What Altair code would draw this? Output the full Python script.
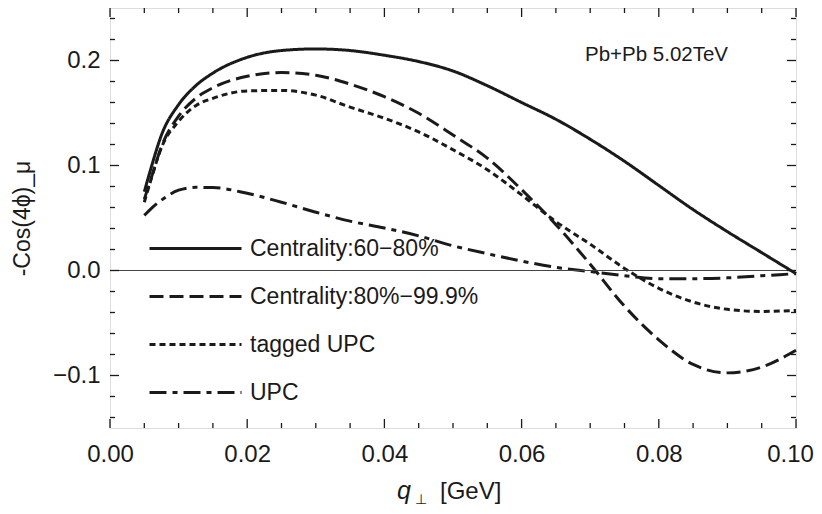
import altair as alt
import pandas as pd

# ---- data ----
q = [0.005, 0.006, 0.0075, 0.01, 0.0125, 0.015, 0.02, 0.025, 0.03, 0.035, 0.04,
     0.045, 0.05, 0.055, 0.06, 0.065, 0.07, 0.075, 0.08, 0.085, 0.09, 0.095, 0.1]
cent_60_80 = [0.075, 0.098, 0.129, 0.158, 0.176, 0.188, 0.203, 0.2095, 0.211, 0.2095, 0.205,
              0.199, 0.190, 0.176, 0.160, 0.144, 0.125, 0.104, 0.081, 0.058, 0.037, 0.017, -0.003]
cent_80_999 = [0.068, 0.088, 0.118, 0.147, 0.164, 0.174, 0.185, 0.1885, 0.186, 0.1775, 0.1655,
               0.1497, 0.129, 0.107, 0.077, 0.0437, 0.006, -0.034, -0.066, -0.0895, -0.0975, -0.092, -0.076]
tagged_upc = [0.065, 0.087, 0.117, 0.142, 0.157, 0.164, 0.171, 0.1715, 0.167, 0.1556, 0.145,
              0.132, 0.115, 0.096, 0.072, 0.0465, 0.025, 0.002, -0.017, -0.030, -0.037, -0.039, -0.038]
upc = [0.0525, 0.059, 0.067, 0.0765, 0.0792, 0.079, 0.0735, 0.065, 0.0555, 0.047, 0.0405,
       0.033, 0.0235, 0.016, 0.009, 0.003, -0.001, -0.005, -0.0078, -0.0078, -0.007, -0.005, -0.003]

series_names = ["Centrality:60\u221280%", "Centrality:80%\u221299.9%", "tagged UPC", "UPC"]
series_values = [cent_60_80, cent_80_999, tagged_upc, upc]
dash_patterns = [[1, 0], [14, 6], [6, 4], [17, 6, 5, 6]]

x_major_ticks = [0.0, 0.02, 0.04, 0.06, 0.08, 0.10]
x_minor_ticks = [0.005, 0.01, 0.015, 0.025, 0.03, 0.035, 0.045, 0.05, 0.055,
                 0.065, 0.07, 0.075, 0.085, 0.09, 0.095]
y_major_ticks = [-0.1, 0.0, 0.1, 0.2]
y_minor_ticks = [-0.14, -0.12, -0.08, -0.06, -0.04, -0.02, 0.02, 0.04, 0.06, 0.08,
                 0.12, 0.14, 0.16, 0.18, 0.22, 0.24]
zero_line = [0.0]
annotation = ["Pb+Pb 5.02TeV"]
x_title_parts = ["q", "\u22a5", "[GeV]"]
y_title = "-Cos(4\u03d5)_\u03bc"

# ---- layout / style ----
W, H = 686, 420
FONT = "Liberation Sans"
INK = "#1a1a1a"
MAJ, MIN = 9, 5
SYM = 2116  # legend symbol size (path scaled by sqrt(size)/2)

rows = []
for name, vals in zip(series_names, series_values):
    for xv, yv in zip(q, vals):
        rows.append({"q": xv, "v": yv, "series": name})
df = pd.DataFrame(rows)

xscale = alt.Scale(domain=[0, 0.1], nice=False, zero=False)
yscale = alt.Scale(domain=[-0.15, 0.25], nice=False, zero=False)

last_label_shift = {"condition": {"test": "datum.value >= 0.099", "value": -6}, "value": 0}

lines = alt.Chart(df).mark_line(strokeWidth=3, color=INK, interpolate="monotone").encode(
    x=alt.X("q:Q", scale=xscale,
            axis=alt.Axis(orient="bottom", title=None, values=x_major_ticks, format=".2f",
                          ticks=False, domain=False, grid=False, labelFlush=False,
                          labelOverlap=False, labelOffset=last_label_shift,
                          labelFontSize=24, labelFont=FONT, labelColor=INK, labelPadding=14)),
    y=alt.Y("v:Q", scale=yscale,
            axis=alt.Axis(orient="left", title=y_title, values=y_major_ticks, format=".1f",
                          labelExpr="replace(datum.label, '-', '\u2212')",
                          ticks=False, domain=False, grid=False, labelFlush=False,
                          labelFontSize=24, labelFont=FONT, labelColor=INK, labelPadding=10,
                          titleFontSize=23, titleFont=FONT, titleFontWeight="normal",
                          titleColor=INK, titlePadding=18)),
    strokeDash=alt.StrokeDash("series:N",
                              scale=alt.Scale(domain=series_names, range=dash_patterns),
                              legend=alt.Legend(title=None, orient="none", legendX=15, legendY=216,
                                                padding=0,
                                                symbolType="M0,0H4", symbolSize=SYM,
                                                symbolStrokeWidth=3, symbolStrokeColor=INK,
                                                labelFontSize=23, labelFont=FONT, labelColor=INK,
                                                labelLimit=400,
                                                labelOffset=76, rowPadding=11)),
    detail="series:N",
)

zero = alt.Chart(pd.DataFrame({"z": zero_line})).mark_rule(color="#444", strokeWidth=1).encode(
    y=alt.Y("z:Q", scale=yscale, axis=None), x=alt.value(0), x2=alt.value(W))

def xticks(vals, length):
    d = pd.DataFrame({"t": vals})
    b = alt.Chart(d).mark_rule(color=INK, strokeWidth=1.3).encode(
        x=alt.X("t:Q", scale=xscale, axis=None), y=alt.value(H), y2=alt.value(H - length))
    t = alt.Chart(d).mark_rule(color=INK, strokeWidth=1.3).encode(
        x=alt.X("t:Q", scale=xscale, axis=None), y=alt.value(0), y2=alt.value(length))
    return [b, t]

def yticks(vals, length):
    d = pd.DataFrame({"t": vals})
    l = alt.Chart(d).mark_rule(color=INK, strokeWidth=1.3).encode(
        y=alt.Y("t:Q", scale=yscale, axis=None), x=alt.value(0), x2=alt.value(length))
    r = alt.Chart(d).mark_rule(color=INK, strokeWidth=1.3).encode(
        y=alt.Y("t:Q", scale=yscale, axis=None), x=alt.value(W), x2=alt.value(W - length))
    return [l, r]

label = alt.Chart(pd.DataFrame({"t": annotation})).mark_text(
    align="left", baseline="middle", fontSize=20.5, font=FONT, color=INK).encode(
    text="t:N", x=alt.value(475), y=alt.value(47))

# x-axis title: italic q, subscript perp, then [GeV]
xt_q = alt.Chart(pd.DataFrame({"t": [x_title_parts[0]]})).mark_text(
    align="left", baseline="alphabetic", fontSize=25, font=FONT, fontStyle="italic", color=INK).encode(
    text="t:N", x=alt.value(287), y=alt.value(491))
xt_perp = alt.Chart(pd.DataFrame({"t": [x_title_parts[1]]})).mark_text(
    align="left", baseline="alphabetic", fontSize=14, font="DejaVu Sans", color=INK).encode(
    text="t:N", x=alt.value(305), y=alt.value(496))
xt_unit = alt.Chart(pd.DataFrame({"t": [x_title_parts[2]]})).mark_text(
    align="left", baseline="alphabetic", fontSize=24, font=FONT, color=INK).encode(
    text="t:N", x=alt.value(330), y=alt.value(491))

layers = [lines, zero] + xticks(x_major_ticks, MAJ) + xticks(x_minor_ticks, MIN) \
    + yticks(y_major_ticks, MAJ) + yticks(y_minor_ticks, MIN) + [label, xt_q, xt_perp, xt_unit]

chart = alt.layer(*layers).resolve_axis(x="independent", y="independent").properties(
    width=W, height=H,
    autosize=alt.AutoSizeParams(type="none"),
    padding={"left": 102, "top": 0, "right": 18, "bottom": 78},
).configure_view(stroke="#333", strokeWidth=1.8).configure(background="white")

chart.save("out.html", embed_options={"renderer": "svg", "actions": False})
